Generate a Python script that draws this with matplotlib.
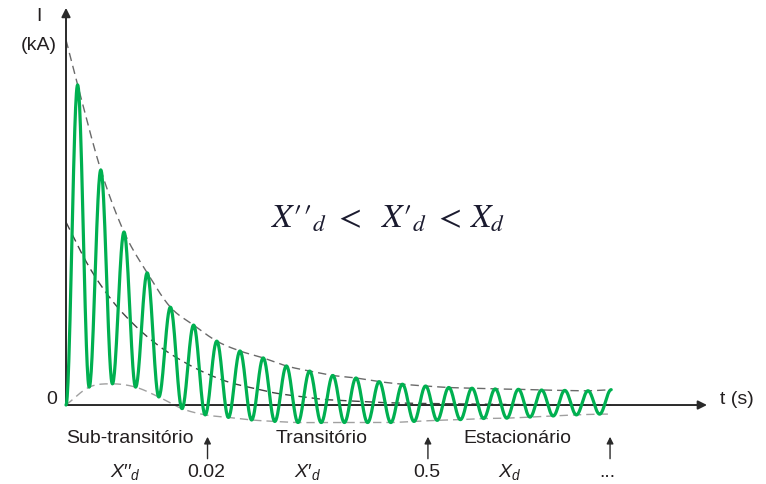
import numpy as np
import matplotlib.pyplot as plt

# x is measured in cycles of the AC wave, y in kA (schematic units)
# peak of each cycle (sits at cycle k + 0.5)
peak_vals = [8.77, 6.44, 4.74, 3.62, 2.68, 2.19, 1.75, 1.48, 1.29, 1.07, 0.93, 0.81,
             0.74, 0.64, 0.57, 0.52, 0.48, 0.46, 0.44, 0.43, 0.41, 0.40, 0.39, 0.42]
# trough of each cycle (sits at cycle k)
trough_vals = [0.0, 0.49, 0.58, 0.49, 0.22, -0.10, -0.27, -0.34, -0.41, -0.45, -0.48, -0.48,
               -0.48, -0.48, -0.48, -0.45, -0.42, -0.40, -0.37, -0.36, -0.33, -0.30, -0.27, -0.25]
upper_start = 10.0

# dc component (middle dashed line)
dc_cycles = [0, 1, 2, 3, 4, 5, 6, 7, 8, 9, 10, 11, 12, 14, 17, 20, 23.5]
dc_vals = [5.01, 3.78, 2.85, 2.16, 1.62, 1.21, 0.88, 0.63, 0.47, 0.33, 0.24, 0.16, 0.12,
           0.06, 0.03, 0.01, 0.0]

region_names = ["Sub-transitório", "Transitório", "Estacionário"]
region_x = [2.76, 11.0, 19.47]
react_labels = ["$X\u2032\u2032_d$", "$X\u2032_d$", "$X_d$"]
react_x = [2.54, 10.43, 19.14]
mark_x = [6.1, 15.6, 23.45]
mark_labels = ["0.02", "0.5", "..."]

plt.rcParams['font.family'] = ['Liberation Sans', 'DejaVu Sans']
plt.rcParams['mathtext.fontset'] = 'custom'
plt.rcParams['mathtext.it'] = 'Liberation Sans:italic'
plt.rcParams['mathtext.rm'] = 'Liberation Sans'

TXT = '#231f20'
GREEN = '#00b050'


def smooth(x, y, n=16):
    """catmull-rom curve through the given points"""
    x = np.asarray(x, float)
    y = np.asarray(y, float)
    px = np.r_[2 * x[0] - x[1], x, 2 * x[-1] - x[-2]]
    py = np.r_[2 * y[0] - y[1], y, 2 * y[-1] - y[-2]]
    s = np.linspace(0, 1, n, endpoint=False)
    ox, oy = [], []
    for i in range(1, len(px) - 2):
        for p, out in ((px, ox), (py, oy)):
            p0, p1, p2, p3 = p[i - 1], p[i], p[i + 1], p[i + 2]
            out.extend(0.5 * (2 * p1 + (p2 - p0) * s
                              + (2 * p0 - 5 * p1 + 4 * p2 - p3) * s ** 2
                              + (3 * p1 - p0 - 3 * p2 + p3) * s ** 3))
    ox.append(x[-1])
    oy.append(y[-1])
    return ox, oy


fig = plt.figure(figsize=(7.66, 4.84), dpi=100)
ax = fig.add_axes([0, 0, 1, 1])
ax.set_xlim(-2.845, 30.172)
ax.set_ylim(-2.164, 11.096)
ax.axis('off')

n = len(peak_vals)
peak_t = np.arange(n) + 0.5
trough_t = np.arange(n)

# envelopes
ux, uy = smooth(np.r_[0, peak_t], np.r_[upper_start, peak_vals])
ax.plot(ux, uy, color='#6a6a6a', lw=1.0, dashes=(6, 3.6), zorder=2)
lx, ly = smooth(np.r_[trough_t, peak_t[-1]], np.r_[trough_vals, trough_vals[-1]])
ax.plot(lx, ly, color='#a0a0a0', lw=1.0, dashes=(6, 3.6), zorder=2)
mx, my = smooth(dc_cycles, dc_vals)
ax.plot(mx, my, color='#444444', lw=1.0, dashes=(6, 3.6), zorder=2)

# the current wave, half-cosine between consecutive extrema
ext_t = np.ravel(np.column_stack([trough_t, peak_t]))
ext_v = np.ravel(np.column_stack([trough_vals, peak_vals]))
wx, wy = [], []
s = np.linspace(0, 1, 30)
for i in range(len(ext_t) - 1):
    wx.extend(ext_t[i] + (ext_t[i + 1] - ext_t[i]) * s)
    wy.extend(ext_v[i] + (ext_v[i + 1] - ext_v[i]) * (1 - np.cos(np.pi * s)) / 2)
ax.plot(wx, wy, color=GREEN, lw=2.3, zorder=4, solid_capstyle='round')

# axes with arrows
arrow = dict(arrowstyle='-|>', color='#2a2a2a', lw=1.4, mutation_scale=13,
             shrinkA=0, shrinkB=0)
ax.annotate('', xy=(0, 10.88), xytext=(0, 0), arrowprops=arrow, zorder=3)
ax.annotate('', xy=(27.63, 0), xytext=(0, 0), arrowprops=arrow, zorder=3)

ax.text(-1.15, 10.64, "I", fontsize=14, color=TXT, ha='center', va='center')
ax.text(-1.19, 9.86, "(kA)", fontsize=14, color=TXT, ha='center', va='center')
ax.text(-0.62, 0.14, "0", fontsize=14, color=TXT, ha='center', va='center')
ax.text(28.9, 0.14, "t (s)", fontsize=14, color=TXT, ha='center', va='center')

ax.text(13.88, 5.1, "$X\u2032\u2032_d\\ <\\ \\ X\u2032_d\\ <\\,X_d$", fontsize=24,
        color='#1b1b2f', ha='center', va='center', math_fontfamily='stix')

for name, xc in zip(region_names, region_x):
    ax.text(xc, -0.93, name, fontsize=14, color=TXT, ha='center', va='center')
for lab, xc in zip(react_labels, react_x):
    ax.text(xc, -1.84, lab, fontsize=14, color=TXT, ha='center', va='center')

small = dict(arrowstyle='-|>', color='#2a2a2a', lw=1.0, mutation_scale=10,
             shrinkA=0, shrinkB=0)
for xm, lab in zip(mark_x, mark_labels):
    ax.annotate('', xy=(xm, -0.87), xytext=(xm, -1.47), arrowprops=small)
    if lab == "...":
        ax.text(xm - 0.1, -1.97, lab, fontsize=14, color=TXT, ha='center', va='baseline')
    else:
        ax.text(xm - 0.05, -1.84, lab, fontsize=14, color=TXT, ha='center', va='center')

fig.savefig('out.png', dpi=100)
